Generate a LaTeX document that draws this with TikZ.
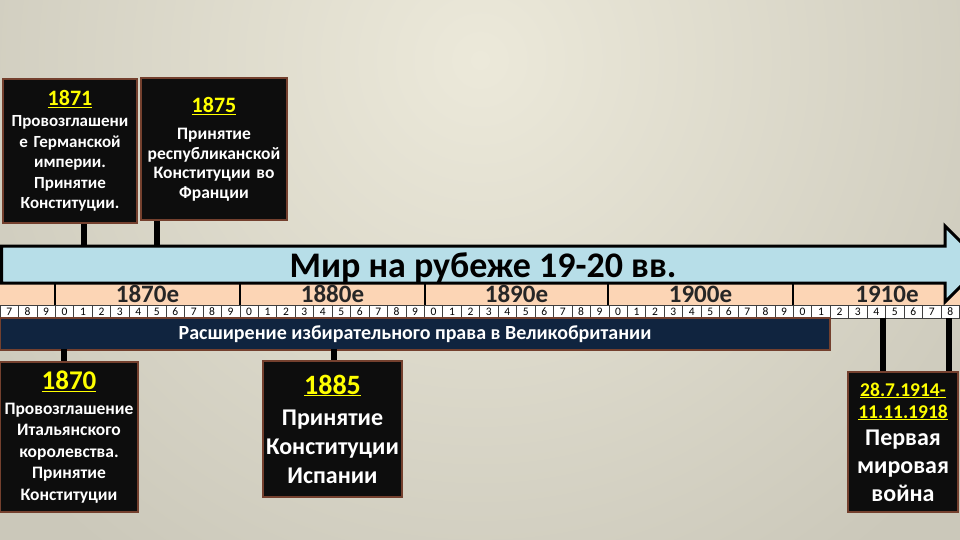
\documentclass[tikz,border=0pt]{standalone}
\usepackage{fontspec}
\setmainfont{Carlito}
\definecolor{bgin}{HTML}{ECE9DA}
\definecolor{bgout}{HTML}{CBC8BA}
\definecolor{arrowblue}{HTML}{B7DEE8}
\definecolor{peach}{HTML}{FCD5B5}
\definecolor{navy}{HTML}{10243F}
\definecolor{boxblack}{HTML}{0D0D0D}
\definecolor{boxbrown}{HTML}{74402E}
\definecolor{yr}{HTML}{FFFF00}
\tikzset{
  evbox/.style={draw=boxbrown, line width=2.5pt, fill=boxblack, text=white,
    align=center, inner sep=0pt},
  conn/.style={line width=6.5pt, black},
  yearcell/.style={draw=black!75, line width=0.6pt, fill=white, inner sep=0pt,
    minimum width=18.45pt, minimum height=13pt, font=\fontsize{11.5}{11.5}\selectfont},
  decade/.style={font=\bfseries\fontsize{25}{25}\selectfont, text=black!85, inner sep=0pt, anchor=base}
}
\newcommand{\yrtxt}[1]{\textcolor{yr}{\underline{#1}}}
\begin{document}
\begin{tikzpicture}[x=1pt,y=-1pt]
\useasboundingbox (0,0) rectangle (960,540);
% background
\begin{scope}
\clip (0,0) rectangle (960,540);
\fill[bgout] (0,0) rectangle (960,540);
\shade[inner color=bgin, outer color=bgout] (480,60) circle (620pt);
\end{scope}
% decade row
\fill[peach] (0,284) rectangle (960,305);
\foreach \xx in {55,240,425,608,793} \draw[black, line width=1.5pt] (\xx,284) -- (\xx,305);
\node[decade] (d1870) at (147.5,302) {1870е};
\node[decade] (d1880) at (332.5,302) {1880е};
\node[decade] (d1890) at (516.5,302) {1890е};
\node[decade] (d1900) at (700.5,302) {1900е};
\node[decade] (d1910) at (887,302) {1910е};
% year cells
\foreach \i in {0,...,51} {
  \pgfmathtruncatemacro\dg{mod(7+\i,10)}
  \node[yearcell] (y\i) at ({\i*18.45+9.2},311.5) {\dg};
}
% arrow
\draw[fill=arrowblue, line width=3pt, line join=miter]
  (1.5,246) -- (945,246) -- (945,226) -- (983,264) -- (945,302) -- (945,283) -- (1.5,283) -- cycle;
\node[font=\bfseries\fontsize{36}{36}\selectfont, inner sep=0pt, anchor=base] (title) at (483,277) {Мир на рубеже 19-20 вв.};
% navy bar
\node[fill=navy, draw=boxbrown, line width=1.5pt, minimum width=830pt, minimum height=32pt,
  inner sep=0pt, text=white, font=\bfseries\fontsize{20}{20}\selectfont] (bar) at (415,334)
  {Расширение избирательного права в Великобритании};
% event boxes
\node[evbox, minimum width=134pt, minimum height=144pt, text width=132pt,
  font=\bfseries\fontsize{17}{20.5}\selectfont] (e1871) at (70,151)
  {{\fontsize{22}{22}\selectfont\yrtxt{1871}}\\[1pt]
   Провозглашени\\е Германской\\империи.\\Принятие\\Конституции.};
\node[evbox, minimum width=146pt, minimum height=142pt, text width=144pt,
  font=\bfseries\fontsize{17.5}{19.5}\selectfont] (e1875) at (214,149)
  {{\fontsize{22}{22}\selectfont\yrtxt{1875}}\\[8pt]
   Принятие\\республиканской\\Конституции во\\Франции};
\node[evbox, minimum width=138pt, minimum height=150pt, text width=136pt,
  font=\bfseries\fontsize{17.5}{21.5}\selectfont] (e1870) at (69,437)
  {{\fontsize{27}{27}\selectfont\yrtxt{1870}}\\[3pt]
   Провозглашение\\Итальянского\\королевства.\\Принятие\\Конституции};
\node[evbox, minimum width=139pt, minimum height=136pt, text width=137pt,
  font=\bfseries\fontsize{24}{29}\selectfont] (e1885) at (332.5,429)
  {{\fontsize{28}{28}\selectfont\yrtxt{1885}}\\[2pt]
   Принятие\\Конституции\\Испании};
\node[evbox, minimum width=110pt, minimum height=140pt, text width=108pt,
  font=\bfseries\fontsize{24}{28}\selectfont] (eww) at (903,442)
  {{\fontsize{19.5}{20}\selectfont\yrtxt{28.7.1914-}}\\[-6pt]
   {\fontsize{19.5}{20}\selectfont\yrtxt{11.11.1918}}\\[-1pt]
   Первая\\мировая\\война};
% connectors
\coordinate (t1871) at (84,246);
\coordinate (t1875) at (157,246);
\coordinate (t1870) at (64,349);
\coordinate (t1885) at (334,349);
\coordinate (t1914) at (883,318);
\coordinate (t1918) at (949,318);
\draw[conn] (e1871.south -| t1871) -- (t1871);
\draw[conn] (e1875.south -| t1875) -- (t1875);
\draw[conn] (t1870) -- (e1870.north -| t1870);
\draw[conn] (t1885) -- (e1885.north -| t1885);
\draw[conn] (t1914) -- (eww.north -| t1914);
\draw[conn] (t1918) -- (eww.north -| t1918);
\end{tikzpicture}
\end{document}
